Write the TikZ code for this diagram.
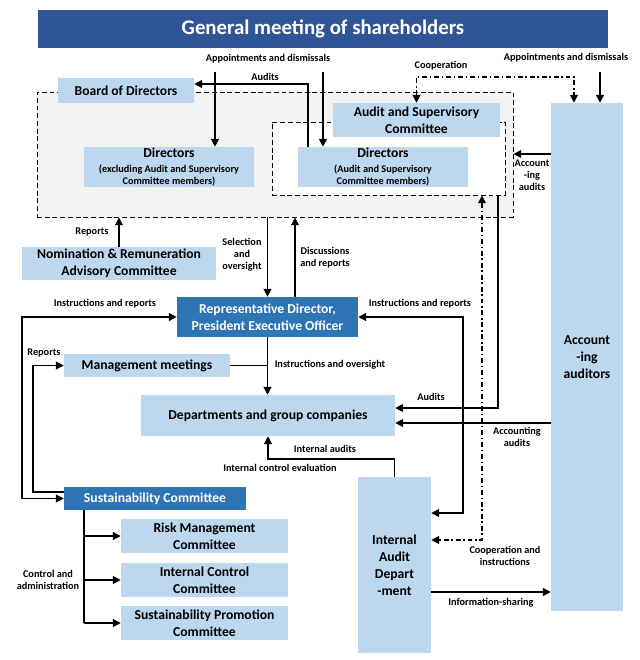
\documentclass[tikz,border=0pt]{standalone}
\usepackage{fontspec}
\setmainfont{Carlito}
\usetikzlibrary{arrows.meta}
\definecolor{lblue}{HTML}{BDD7EE}
\definecolor{mblue}{HTML}{2E75B6}
\definecolor{dblue}{HTML}{2F5597}
\definecolor{lgray}{HTML}{F2F2F2}
\newcommand{\subtxt}{\fontsize{7.3}{9}\selectfont}

\begin{document}
\begin{tikzpicture}[x=0.025cm, y=-0.025cm,
  wh/.style 2 args={minimum width=#1*0.025cm, minimum height=#2*0.025cm},
  box/.style={fill=lblue, inner sep=0pt, align=center, font=\fontsize{9.7}{12}\selectfont\bfseries},
  dbox/.style={box, fill=mblue, text=white},
  region/.style={draw, line width=0.7pt, dash pattern=on 3.5pt off 2pt},
  lbl/.style={align=center, inner sep=0pt, font=\fontsize{7.3}{8.7}\selectfont\bfseries},
  arr/.style={line width=0.9pt, -{Triangle[length=5.5pt,width=5.5pt]}},
  darr/.style={line width=0.9pt, {Triangle[length=5.5pt,width=5.5pt]}-{Triangle[length=5.5pt,width=5.5pt]}},
  dd/.style={dash pattern=on 3.5pt off 2pt on 1pt off 2pt}]
\useasboundingbox (0,0) rectangle (640,660);

% top
\node [dbox, fill=dblue, wh={570}{38}, font=\fontsize{14.8}{17}\selectfont\bfseries] (gm) at (323,29) {General meeting of shareholders};
\node [region, fill=lgray, wh={476}{125}] (boardreg) at (275,154.5) {};
\node [region, fill=white, wh={233}{73}] (ascreg) at (388.5,158.5) {};
\node [box, wh={136}{25}] (board) at (126,90.5) {Board of Directors};
\node [box, wh={167}{34}] (asc) at (416.5,120) {Audit and Supervisory\\Committee};
\node [box, wh={170}{40}] (dirx) at (169,167) {Directors\\[-1.5pt]\subtxt(excluding Audit and Supervisory\\[-3pt]\subtxt Committee members)};
\node [box, wh={170}{40}] (dira) at (383,167) {Directors\\[-1.5pt]\subtxt(Audit and Supervisory\\[-3pt]\subtxt Committee members)};
\node [box, wh={72}{508}] (acc) at (587,357) {Account\\-ing\\auditors};

% middle
\node [box, wh={194}{33}] (nom) at (119,263.5) {Nomination \& Remuneration\\Advisory Committee};
\node [dbox, wh={181}{40}] (rep) at (267.5,317) {Representative Director,\\President Executive Officer};
\node [box, wh={166}{23}] (mgmt) at (147,365.5) {Management meetings};
\node [box, wh={254}{41}] (dept) at (268,415.5) {Departments and group companies};
\node [box, wh={73}{176}] (iad) at (394.5,565) {Internal\\Audit\\Depart\\-ment};

% bottom
\node [dbox, wh={182}{23}] (sus) at (155,498.5) {Sustainability Committee};
\node [box, wh={167}{34}] (risk) at (204.5,536) {Risk Management\\Committee};
\node [box, wh={167}{34}] (icc) at (204.5,580) {Internal Control\\Committee};
\node [box, wh={167}{34}] (spc) at (204.5,623) {Sustainability Promotion\\Committee};

% connectors
\coordinate (apl) at (215,72);
\coordinate (apr) at (323,72);
\coordinate (apa) at (600,72);
\coordinate (aud) at (308,84);
\coordinate (coop) at (574,77);
\coordinate (aa) at (0,154);
\coordinate (dis) at (295,0);
\coordinate (il) at (22,400);
\coordinate (rp) at (33,492);
\coordinate (au2) at (498,408);
\coordinate (aa2) at (0,423);
\coordinate (ci) at (482,540);
\coordinate (ir) at (463,513);
\coordinate (ia) at (0,459);
\coordinate (is) at (0,592);
\coordinate (ca) at (84,0);

\draw [arr] (apl) -- (apl |- dirx.north);
\draw [arr] (apr) -- (apr |- dira.north);
\draw [arr] (apa) -- (apa |- acc.north);
\draw [arr] (aud |- dira.north) -- (aud) -- (aud -| board.east);
\draw [darr, dd] (asc.north) |- (coop) -- (coop |- acc.north);
\draw [arr] (acc.west |- aa) -- (boardreg.east |- aa);
\draw [arr] (nom.north) -- (nom.north |- boardreg.south);
\draw [arr] (boardreg.south -| rep.north) -- (rep.north);
\draw [arr] (rep.north -| dis) -- (boardreg.south -| dis);
\draw [darr] (rep.west) -| (il) |- (sus.west);
\draw [arr] (sus.west |- rp) -- (rp) |- (mgmt.west);
\draw [arr] (rep.south) -- (rep.south |- dept.north);
\draw [line width=0.9pt] (mgmt.east) -- (mgmt.east -| rep.south);
\draw [arr] (ascreg.south -| au2) |- (dept.east |- au2);
\draw [arr] (acc.west |- aa2) -- (dept.east |- aa2);
\draw [darr, dd] (ascreg.south -| ci) -- (ci) -- (iad.east |- ci);
\draw [darr] (rep.east) -| (ir) -- (iad.east |- ir);
\draw [arr] (iad.north) |- (dept.south |- ia) -- (dept.south);
\draw [arr] (iad.east |- is) -- (acc.west |- is);
\draw [line width=0.9pt] (sus.south -| ca) -- (ca |- spc.west);
\foreach \n in {risk,icc,spc}
  \draw [arr] (ca |- \n.west) -- (\n.west);

% labels
\node [lbl] (l1) at (268,59) {Appointments and dismissals};
\node [lbl] (l2) at (265,77) {Audits};
\node [lbl] (l3) at (441,66) {Cooperation};
\node [lbl] (l4) at (566,58) {Appointments and dismissals};
\node [lbl] (l5) at (532,175) {Account\\-ing\\audits};
\node [lbl] (l6) at (92,232) {Reports};
\node [lbl] (l7) at (242,255) {Selection\\and\\oversight};
\node [lbl] (l8) at (325,258) {Discussions\\and reports};
\node [lbl] (l9) at (105,304) {Instructions and reports};
\node [lbl] (l10) at (420,304) {Instructions and reports};
\node [lbl] (l11) at (44,353) {Reports};
\node [lbl] (l12) at (330,365) {Instructions and oversight};
\node [lbl] (l13) at (431,397) {Audits};
\node [lbl] (l14) at (517,437) {Accounting\\audits};
\node [lbl] (l15) at (325,449) {Internal audits};
\node [lbl] (l16) at (280,468) {Internal control evaluation};
\node [lbl] (l17) at (505,556) {Cooperation and\\instructions};
\node [lbl] (l18) at (491,603) {Information-sharing};
\node [lbl] (l19) at (48,580) {Control and\\administration};
\end{tikzpicture}
\end{document}
